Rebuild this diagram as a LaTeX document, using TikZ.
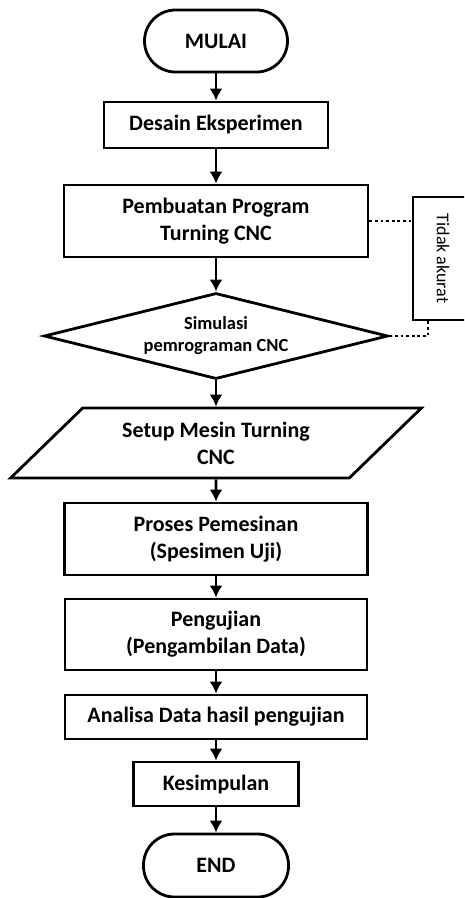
\documentclass[tikz,border=0pt]{standalone}
\usepackage{fontspec}
\setmainfont{Carlito}
\usetikzlibrary{shapes.geometric,arrows.meta}
\tikzset{
  proc/.style={draw, line width=2.8pt, rectangle, align=center, inner sep=0pt,
    font=\bfseries\fontsize{22}{27}\selectfont},
  term/.style={proc, rounded corners=31pt},
  flowarrow/.style={line width=2.8pt, -{Latex[length=12pt,width=13pt]}},
  backline/.style={line width=2.8pt, dash pattern=on 2.8pt off 2.8pt},
}

\begin{document}
\begin{tikzpicture}[x=1pt, y=-1pt]
			%%%%% START %%%%%
			\useasboundingbox (0,0) rectangle (464,898);
			\clip (0,0) rectangle (464,898);
			
			\node[term, minimum width=143pt, minimum height=62pt] (mulai) at (216,41) {MULAI};
			\node[proc, minimum width=224pt, minimum height=46pt] (desain) at (216,125) {Desain Eksperimen};
			\node[proc, minimum width=304pt, minimum height=72pt] (buat) at (216,221) {Pembuatan Program\\Turning CNC};
			
			\node[proc, diamond, shape aspect=4, minimum width=344pt, minimum height=86pt,
			  font=\bfseries\fontsize{18.5}{22}\selectfont] (simul) at (216,336) {Simulasi\\pemrograman CNC};
			
			\node[proc, trapezium, trapezium left angle=40, trapezium right angle=140,
			  trapezium stretches=true, minimum width=412pt, minimum height=70pt] (setup) at (216,443) {Setup Mesin Turning\\CNC};
			
			\node[proc, minimum width=303pt, minimum height=72pt] (proses) at (216,539) {Proses Pemesinan\\(Spesimen Uji)};
			\node[proc, minimum width=302pt, minimum height=71pt] (uji) at (216,634.5) {Pengujian\\(Pengambilan Data)};
			\node[proc, minimum width=302pt, minimum height=44pt] (analisa) at (216,717) {Analisa Data hasil pengujian};
			\node[proc, minimum width=165pt, minimum height=44pt] (simpul) at (216,784) {Kesimpulan};
			\node[term, minimum width=145pt, minimum height=63pt] (selesai) at (216,865.5) {END};
			
			% kotak umpan balik, sisi kanan keluar dari gambar
			\node[draw, line width=2.8pt, minimum width=60pt, minimum height=123pt, inner sep=0pt,
			  font=\fontsize{18}{22}\selectfont] (tidak) at (443,258.5) {\rotatebox{-90}{Tidak akurat}\hspace{6pt}};
			
			\draw[flowarrow] (mulai) -- (desain);
			\draw[flowarrow] (desain) -- (buat);
			\draw[flowarrow] (buat) -- (simul);
			\draw[flowarrow] (simul) -- (setup);
			\draw[flowarrow] (setup) -- (proses);
			\draw[flowarrow] (proses) -- (uji);
			\draw[flowarrow] (uji) -- (analisa);
			\draw[flowarrow] (analisa) -- (simpul);
			\draw[flowarrow] (simpul) -- (selesai);
			
			\draw[backline] (buat.east) -- (buat.east -| tidak.west);
			\coordinate (balik) at (428,336);
			\draw[backline] (simul.east) -- (balik) -- (balik |- tidak.south);
			
			%%%%% END %%%%%
		\end{tikzpicture}
\end{document}
